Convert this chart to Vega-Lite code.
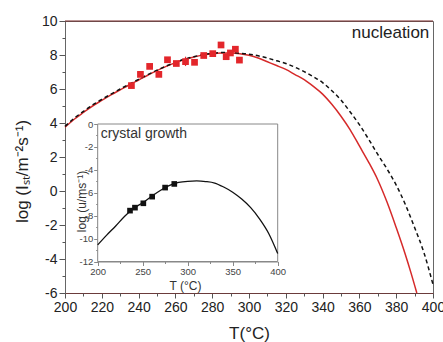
{
  "$schema": "https://vega.github.io/schema/vega-lite/v6.json",
  "width": 368,
  "height": 272,
  "autosize": {"type": "none"},
  "padding": {"left": 65, "top": 21, "right": 10, "bottom": 49},
  "background": "white",
  "config": {"view": {"stroke": "#666", "strokeWidth": 1}, "font": "Liberation Sans"},
  "datasets": {
    "red": [
      {"T": 200, "v": 3.75}, {"T": 205, "v": 4.22}, {"T": 210, "v": 4.62}, {"T": 215, "v": 5.0},
      {"T": 220, "v": 5.33}, {"T": 225, "v": 5.65}, {"T": 230, "v": 5.95}, {"T": 235, "v": 6.25},
      {"T": 240, "v": 6.53}, {"T": 245, "v": 6.81}, {"T": 250, "v": 7.08}, {"T": 255, "v": 7.33},
      {"T": 260, "v": 7.55}, {"T": 265, "v": 7.73}, {"T": 270, "v": 7.88}, {"T": 275, "v": 8.0},
      {"T": 280, "v": 8.08}, {"T": 285, "v": 8.12}, {"T": 290, "v": 8.12}, {"T": 295, "v": 8.08},
      {"T": 300, "v": 7.98}, {"T": 305, "v": 7.82}, {"T": 310, "v": 7.6}, {"T": 315, "v": 7.38},
      {"T": 320, "v": 7.15}, {"T": 325, "v": 6.85}, {"T": 330, "v": 6.55}, {"T": 335, "v": 6.15},
      {"T": 340, "v": 5.7}, {"T": 345, "v": 5.1}, {"T": 350, "v": 4.4}, {"T": 355, "v": 3.6},
      {"T": 360, "v": 2.65}, {"T": 365, "v": 1.7}, {"T": 370, "v": 0.65}, {"T": 375, "v": -0.65},
      {"T": 380, "v": -2.15}, {"T": 385, "v": -3.75}, {"T": 388, "v": -4.8}, {"T": 391.2, "v": -6.0}
    ],
    "dashed": [
      {"T": 200, "v": 3.8}, {"T": 205, "v": 4.28}, {"T": 210, "v": 4.68}, {"T": 215, "v": 5.06},
      {"T": 220, "v": 5.39}, {"T": 225, "v": 5.7}, {"T": 230, "v": 6.0}, {"T": 235, "v": 6.29},
      {"T": 240, "v": 6.57}, {"T": 245, "v": 6.84}, {"T": 250, "v": 7.1}, {"T": 255, "v": 7.35},
      {"T": 260, "v": 7.57}, {"T": 265, "v": 7.75}, {"T": 270, "v": 7.9}, {"T": 275, "v": 8.02},
      {"T": 280, "v": 8.1}, {"T": 285, "v": 8.14}, {"T": 290, "v": 8.14}, {"T": 295, "v": 8.1},
      {"T": 300, "v": 8.05}, {"T": 305, "v": 7.95}, {"T": 310, "v": 7.82}, {"T": 315, "v": 7.66},
      {"T": 320, "v": 7.5}, {"T": 325, "v": 7.28}, {"T": 330, "v": 7.02}, {"T": 335, "v": 6.72},
      {"T": 340, "v": 6.38}, {"T": 345, "v": 5.9}, {"T": 350, "v": 5.35}, {"T": 355, "v": 4.65},
      {"T": 360, "v": 3.9}, {"T": 365, "v": 3.05}, {"T": 370, "v": 2.15}, {"T": 375, "v": 1.3},
      {"T": 380, "v": 0.35}, {"T": 385, "v": -0.8}, {"T": 390, "v": -2.15}, {"T": 395, "v": -3.6},
      {"T": 400, "v": -5.5}
    ],
    "points": [
      {"T": 236.1, "v": 6.2}, {"T": 241.0, "v": 6.86}, {"T": 246.0, "v": 7.33}, {"T": 251.0, "v": 6.86},
      {"T": 255.7, "v": 7.72}, {"T": 260.5, "v": 7.5}, {"T": 265.5, "v": 7.61}, {"T": 270.4, "v": 7.57},
      {"T": 275.4, "v": 7.97}, {"T": 280.3, "v": 8.08}, {"T": 284.8, "v": 8.59}, {"T": 287.6, "v": 7.9},
      {"T": 289.9, "v": 8.12}, {"T": 292.6, "v": 8.34}, {"T": 294.8, "v": 7.7}
    ],
    "errs": [{"T": 265.5, "lo": 7.35, "hi": 7.9}],
    "growthCurve": [
      {"T": 200, "v": -10.55}, {"T": 210, "v": -9.7}, {"T": 220, "v": -8.9}, {"T": 230, "v": -8.05},
      {"T": 240, "v": -7.35}, {"T": 250, "v": -6.88}, {"T": 260, "v": -6.3}, {"T": 270, "v": -5.78},
      {"T": 280, "v": -5.35}, {"T": 290, "v": -5.1}, {"T": 300, "v": -5.0}, {"T": 310, "v": -4.97},
      {"T": 320, "v": -5.02}, {"T": 330, "v": -5.15}, {"T": 340, "v": -5.5}, {"T": 350, "v": -5.95},
      {"T": 360, "v": -6.55}, {"T": 370, "v": -7.3}, {"T": 380, "v": -8.3}, {"T": 390, "v": -9.55},
      {"T": 400, "v": -11.3}
    ],
    "growthPoints": [
      {"T": 235.9, "v": -7.56}, {"T": 241.4, "v": -7.3}, {"T": 250.7, "v": -6.92},
      {"T": 260.5, "v": -6.34}, {"T": 274.9, "v": -5.55}, {"T": 285.1, "v": -5.23}
    ]
  },
  "layer": [
    {
      "layer": [
        {
          "data": {"name": "red"},
          "mark": {"type": "line", "color": "#d62a2a", "strokeWidth": 1.5, "interpolate": "monotone"},
          "encoding": {
            "x": {
              "field": "T", "type": "quantitative",
              "scale": {"domain": [200, 400], "nice": false, "zero": false},
              "axis": {
                "orient": "bottom",
                "values": [200, 220, 240, 260, 280, 300, 320, 340, 360, 380, 400],
                "tickSize": 5, "labelOverlap": false, "labelFontSize": 14, "labelColor": "#222", "labelPadding": 2,
                "labelFont": "Liberation Sans", "labelFlush": false, "format": "d",
                "tickColor": "#555", "domainColor": "#6b3b3b", "grid": false,
                "title": "T(°C)", "titleFontSize": 17, "titleFontWeight": "normal", "titleColor": "#222",
                "titleFont": "Liberation Sans", "titleY": 45, "titleBaseline": "alphabetic"
              }
            },
            "y": {
              "field": "v", "type": "quantitative",
              "scale": {"domain": [-6, 10], "nice": false, "zero": false},
              "axis": {
                "orient": "left",
                "values": [-6, -4, -2, 0, 2, 4, 6, 8, 10],
                "labelExpr": "toString(datum.value)",
                "tickSize": 6, "labelOverlap": false, "labelFontSize": 14, "labelColor": "#222", "labelPadding": 2,
                "labelFont": "Liberation Sans", "labelFlush": false,
                "tickColor": "#555", "domainColor": "#666", "grid": false,
                "title": "log (Iₛₜ/m⁻²s⁻¹)", "titleFontSize": 17, "titleFontWeight": "normal", "titleColor": "#222",
                "titleFont": "Liberation Sans", "titleX": -38, "titleY": 150, "titleBaseline": "alphabetic"
              }
            }
          }
        },
        {
          "data": {"name": "red"},
          "mark": {"type": "point", "opacity": 0},
          "encoding": {
            "x": {
              "field": "T", "type": "quantitative",
              "axis": {
                "orient": "bottom",
                "values": [210, 230, 250, 270, 290, 310, 330, 350, 370, 390],
                "tickSize": 3, "labels": false, "domain": false, "grid": false, "title": null, "tickColor": "#555"
              }
            },
            "y": {
              "field": "v", "type": "quantitative",
              "axis": {
                "orient": "left",
                "values": [-5, -3, -1, 1, 3, 5, 7, 9],
                "tickSize": 3, "labels": false, "domain": false, "grid": false, "title": null, "tickColor": "#555"
              }
            }
          }
        },
        {
          "data": {"name": "dashed"},
          "mark": {"type": "line", "color": "#111", "strokeWidth": 1.5, "strokeDash": [4, 3], "interpolate": "monotone"},
          "encoding": {
            "x": {"field": "T", "type": "quantitative", "axis": null},
            "y": {"field": "v", "type": "quantitative", "axis": null}
          }
        },
        {
          "data": {"name": "errs"},
          "mark": {"type": "rule", "color": "#e3262b", "strokeWidth": 1.2},
          "encoding": {
            "x": {"field": "T", "type": "quantitative", "axis": null},
            "y": {"field": "lo", "type": "quantitative", "axis": null},
            "y2": {"field": "hi"}
          }
        },
        {
          "data": {"name": "points"},
          "mark": {"type": "square", "color": "#e3262b", "opacity": 1, "size": 45},
          "encoding": {
            "x": {"field": "T", "type": "quantitative", "axis": null},
            "y": {"field": "v", "type": "quantitative", "axis": null}
          }
        },
        {
          "data": {"values": [{}]},
          "mark": {"type": "rule", "color": "#7a2a2a", "strokeWidth": 1.2},
          "encoding": {"y": {"datum": 10, "type": "quantitative", "axis": null}}
        },
        {
          "data": {"values": [{}]},
          "mark": {"type": "text", "text": "nucleation", "align": "right", "baseline": "alphabetic", "fontSize": 17, "color": "#222", "font": "Liberation Sans"},
          "encoding": {
            "x": {"datum": 398, "type": "quantitative", "axis": null},
            "y": {"datum": 8.98, "type": "quantitative", "axis": null}
          }
        }
      ],
      "resolve": {"axis": {"x": "independent", "y": "independent"}}
    },
    {
      "layer": [
        {
          "data": {"values": [{}]},
          "mark": {"type": "rect", "fill": "white", "stroke": "#888", "strokeWidth": 1},
          "encoding": {
            "x": {
              "datum": 200, "type": "quantitative",
              "scale": {"domain": [200, 400], "range": [32.7, 212.7], "nice": false, "zero": false},
              "axis": {
                "orient": "bottom", "offset": -31.5,
                "values": [200, 250, 300, 350, 400], "format": "d",
                "tickSize": 4, "labelOverlap": false, "labelFontSize": 9.5, "labelColor": "#444", "labelPadding": 1,
                "labelFont": "Liberation Sans", "labelFlush": false,
                "tickColor": "#888", "domainColor": "#888", "grid": false,
                "title": "T (°C)", "titleFontSize": 12, "titleFontWeight": "normal", "titleColor": "#333",
                "titleFont": "Liberation Sans", "titleX": 120, "titleY": 27.5, "titleBaseline": "alphabetic"
              }
            },
            "x2": {"datum": 400},
            "y": {
              "datum": -12, "type": "quantitative",
              "scale": {"domain": [-12, 0], "range": [240.5, 103], "nice": false, "zero": false},
              "axis": {
                "orient": "left", "offset": -32.7,
                "values": [-12, -10, -8, -6, -4, -2, 0],
                "labelExpr": "toString(datum.value)",
                "tickSize": 4, "labelOverlap": false, "labelFontSize": 9.5, "labelColor": "#444", "labelPadding": 1,
                "labelFont": "Liberation Sans", "labelFlush": false,
                "tickColor": "#888", "domainColor": "#888", "grid": false,
                "title": "log (u/ms⁻¹)", "titleFontSize": 12, "titleFontWeight": "normal", "titleColor": "#333",
                "titleFont": "Liberation Sans", "titleX": -12, "titleY": 180, "titleBaseline": "alphabetic"
              }
            },
            "y2": {"datum": 0}
          }
        },
        {
          "data": {"name": "growthCurve"},
          "mark": {"type": "point", "opacity": 0},
          "encoding": {
            "x": {
              "field": "T", "type": "quantitative",
              "axis": {
                "orient": "bottom", "offset": -31.5,
                "values": [225, 275, 325, 375],
                "tickSize": 2, "labels": false, "domain": false, "grid": false, "title": null, "tickColor": "#888"
              }
            },
            "y": {
              "field": "v", "type": "quantitative",
              "axis": {
                "orient": "left", "offset": -32.7,
                "values": [-11, -9, -7, -5, -3, -1],
                "tickSize": 2, "labels": false, "domain": false, "grid": false, "title": null, "tickColor": "#888"
              }
            }
          }
        },
        {
          "data": {"name": "growthCurve"},
          "mark": {"type": "line", "color": "#111", "strokeWidth": 1.3, "interpolate": "monotone"},
          "encoding": {
            "x": {"field": "T", "type": "quantitative", "axis": null},
            "y": {"field": "v", "type": "quantitative", "axis": null}
          }
        },
        {
          "data": {"name": "growthPoints"},
          "mark": {"type": "square", "color": "#111", "opacity": 1, "size": 32},
          "encoding": {
            "x": {"field": "T", "type": "quantitative", "axis": null},
            "y": {"field": "v", "type": "quantitative", "axis": null}
          }
        },
        {
          "data": {"values": [{}]},
          "mark": {"type": "text", "text": "crystal growth", "align": "left", "baseline": "alphabetic", "fontSize": 14, "color": "#333", "font": "Liberation Sans"},
          "encoding": {
            "x": {"datum": 203.3, "type": "quantitative", "axis": null},
            "y": {"datum": -1.25, "type": "quantitative", "axis": null}
          }
        }
      ],
      "resolve": {"axis": {"x": "independent", "y": "independent"}}
    }
  ],
  "resolve": {"scale": {"x": "independent", "y": "independent"}}
}
